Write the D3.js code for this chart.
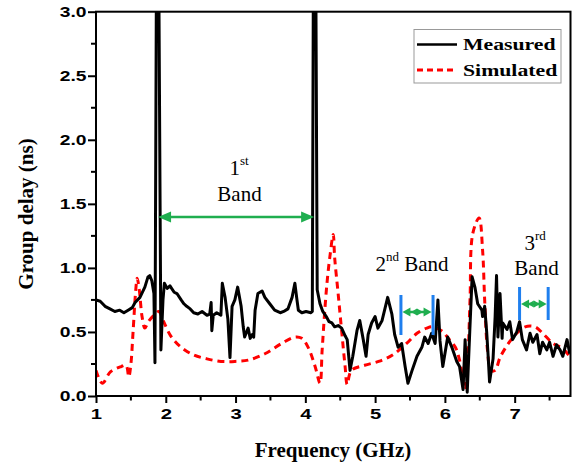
<!DOCTYPE html>
<html><head><meta charset="utf-8">
<script src="https://cdn.jsdelivr.net/npm/d3@7"></script>
<style>body{margin:0;background:#fff}svg{display:block}</style>
</head><body>
<svg id="chart" width="574" height="465"></svg>
<script>
// ---- data ----
const measuredFreq = [1.00,1.06,1.13,1.20,1.27,1.34,1.40,1.46,1.52,1.56,1.63,1.70,1.745,1.77,1.80,1.83,1.845,1.866,1.90,1.93,1.96,1.98,2.02,2.06,2.12,2.16,2.22,2.26,2.30,2.35,2.40,2.46,2.52,2.59,2.63,2.65,2.66,2.68,2.73,2.79,2.81,2.85,2.89,2.92,2.95,2.99,3.03,3.08,3.11,3.13,3.18,3.21,3.24,3.26,3.28,3.32,3.38,3.42,3.49,3.56,3.64,3.69,3.75,3.81,3.85,3.88,3.90,3.95,4.01,4.08,4.10,4.115,4.15,4.17,4.21,4.25,4.30,4.34,4.38,4.42,4.47,4.52,4.57,4.60,4.64,4.68,4.74,4.78,4.83,4.87,4.90,4.95,5.00,5.04,5.10,5.14,5.18,5.24,5.28,5.33,5.38,5.43,5.47,5.53,5.60,5.67,5.71,5.76,5.81,5.86,5.90,5.93,5.97,6.04,6.10,6.17,6.21,6.26,6.29,6.32,6.36,6.39,6.43,6.47,6.53,6.54,6.57,6.60,6.62,6.64,6.69,6.72,6.74,6.76,6.79,6.82,6.83,6.89,6.93,6.97,7.03,7.07,7.11,7.17,7.22,7.26,7.32,7.36,7.40,7.46,7.50,7.55,7.60,7.65,7.69,7.75,7.79];
const measuredDelay = [0.75,0.74,0.70,0.68,0.66,0.67,0.65,0.67,0.69,0.73,0.77,0.85,0.93,0.94,0.90,0.80,0.26,3.3,3.3,0.36,0.75,0.88,0.84,0.86,0.81,0.80,0.75,0.72,0.70,0.68,0.65,0.64,0.66,0.63,0.64,0.73,0.51,0.63,0.65,0.63,0.88,0.77,0.60,0.30,0.70,0.75,0.85,0.70,0.54,0.46,0.53,0.45,0.48,0.46,0.67,0.80,0.82,0.77,0.72,0.67,0.65,0.66,0.68,0.77,0.88,0.75,0.67,0.65,0.66,0.65,0.66,3.3,3.3,0.83,0.72,0.66,0.62,0.58,0.57,0.54,0.55,0.53,0.47,0.44,0.20,0.31,0.51,0.59,0.44,0.31,0.48,0.57,0.62,0.53,0.59,0.68,0.77,0.64,0.48,0.38,0.41,0.23,0.10,0.20,0.31,0.38,0.46,0.41,0.49,0.41,0.75,0.43,0.23,0.46,0.38,0.27,0.23,0.05,0.44,0.03,0.55,0.93,0.85,0.72,0.67,0.62,0.70,0.49,0.31,0.11,0.29,0.62,0.94,0.46,0.80,0.45,0.57,0.52,0.58,0.44,0.50,0.58,0.44,0.36,0.49,0.42,0.48,0.33,0.42,0.36,0.42,0.31,0.40,0.36,0.31,0.44,0.33];
const simulatedFreq = [1.00,1.09,1.21,1.36,1.43,1.47,1.50,1.53,1.57,1.59,1.62,1.66,1.70,1.75,1.83,1.90,1.97,2.07,2.22,2.40,2.59,2.79,2.99,3.18,3.42,3.66,3.85,3.95,4.04,4.14,4.21,4.24,4.27,4.31,4.35,4.40,4.42,4.47,4.52,4.57,4.60,4.66,4.85,5.05,5.25,5.45,5.60,5.74,5.82,5.95,6.05,6.15,6.21,6.29,6.33,6.36,6.40,6.49,6.54,6.57,6.61,6.66,6.72,6.79,6.91,7.03,7.15,7.29,7.40,7.55,7.69,7.80];
const simulatedDelay = [0.20,0.10,0.19,0.23,0.24,0.15,0.25,0.49,0.83,0.92,0.83,0.62,0.53,0.58,0.63,0.66,0.58,0.47,0.38,0.32,0.29,0.27,0.27,0.28,0.33,0.41,0.46,0.45,0.38,0.23,0.10,0.35,0.60,0.88,1.08,1.26,1.08,0.80,0.51,0.23,0.09,0.20,0.24,0.27,0.32,0.41,0.49,0.53,0.54,0.51,0.45,0.38,0.28,0.05,0.30,0.75,1.27,1.39,1.14,0.75,0.36,0.20,0.20,0.30,0.41,0.49,0.54,0.54,0.49,0.41,0.37,0.30];
const xTicks = [1,2,3,4,5,6,7];
const yTicks = [0.0,0.5,1.0,1.5,2.0,2.5,3.0];
const seriesNames = ["Measured","Simulated"];
const bandEdges = [[1.875,4.14],[5.37,5.83],[7.07,7.48]];

// ---- layout ----
const svg = d3.select("#chart");
const L = 96, R = 570.5, T = 11.7, B = 396;
const x = d3.scaleLinear().domain([1,7.8]).range([L,R]);
const y = d3.scaleLinear().domain([0,3]).range([B,T]);

svg.append("defs").append("clipPath").attr("id","clip")
  .append("rect").attr("x",L).attr("y",T).attr("width",R-L).attr("height",B-T);

const plot = svg.append("g").attr("clip-path","url(#clip)");

const simData = simulatedFreq.map((f,i)=>[f,simulatedDelay[i]]);
const meaData = measuredFreq.map((f,i)=>[f,measuredDelay[i]]);

plot.append("path").datum(simData)
  .attr("d", d3.line().x(d=>x(d[0])).y(d=>y(d[1])).curve(d3.curveCatmullRom.alpha(0.5)))
  .attr("fill","none").attr("stroke","#ff0000").attr("stroke-width",3).attr("stroke-dasharray","7,5");

plot.append("path").datum(meaData)
  .attr("d", d3.line().x(d=>x(d[0])).y(d=>y(d[1])))
  .attr("fill","none").attr("stroke","#000").attr("stroke-width",3).attr("stroke-linejoin","round");

// ---- frame and axes ----
const axisW = 2;
svg.append("rect").attr("x",L).attr("y",T).attr("width",R-L).attr("height",B-T)
  .attr("fill","none").attr("stroke","#000").attr("stroke-width",axisW);

const xMinor = d3.range(1.5,7.8,1);
const yMinor = d3.range(0.25,3,0.5);
const gx = svg.append("g").attr("transform",`translate(0,${B})`);
gx.call(d3.axisBottom(x).tickValues(xTicks).tickSize(7).tickFormat(d3.format("d")));
xMinor.forEach(v=>gx.append("line").attr("x1",x(v)).attr("x2",x(v)).attr("y1",0).attr("y2",4.5).attr("stroke","#000").attr("stroke-width",axisW));
gx.select(".domain").remove();
gx.selectAll(".tick line").attr("stroke-width",axisW);
gx.selectAll(".tick text").attr("y",12).attr("dy","0.71em")
  .attr("font-family","Liberation Sans, Arial, sans-serif").attr("font-weight","bold").attr("font-size",15)
  .attr("transform","scale(1.35,1)");

const gy = svg.append("g").attr("transform",`translate(${L},0)`);
gy.call(d3.axisLeft(y).tickValues(yTicks).tickSize(8).tickFormat(d3.format(".1f")));
gy.select(".domain").remove();
gy.selectAll(".tick line").attr("stroke-width",axisW);
yMinor.forEach(v=>gy.append("line").attr("x1",-5).attr("x2",0).attr("y1",y(v)).attr("y2",y(v)).attr("stroke","#000").attr("stroke-width",axisW));
gy.selectAll(".tick text").attr("x",-9.5/1.33)
  .attr("font-family","Liberation Sans, Arial, sans-serif").attr("font-weight","bold").attr("font-size",14.5)
  .attr("transform","scale(1.33,1)");

svg.append("text").attr("x",333).attr("y",457).attr("text-anchor","middle")
  .attr("font-family","Liberation Serif, Times New Roman, serif").attr("font-weight","bold").attr("font-size",21)
  .text("Frequency (GHz)");
svg.append("text").attr("transform","translate(33,214) rotate(-90)").attr("text-anchor","middle")
  .attr("font-family","Liberation Serif, Times New Roman, serif").attr("font-weight","bold").attr("font-size",21)
  .text("Group delay (ns)");

// ---- legend ----
const lg = svg.append("g");
lg.append("rect").attr("x",414).attr("y",29.5).attr("width",147).attr("height",53.5)
  .attr("fill","#fff").attr("stroke","#999").attr("stroke-width",1);
lg.append("line").attr("x1",417).attr("x2",457).attr("y1",44.5).attr("y2",44.5).attr("stroke","#000").attr("stroke-width",2.6);
lg.append("line").attr("x1",417).attr("x2",457).attr("y1",70).attr("y2",70).attr("stroke","#ff0000").attr("stroke-width",3).attr("stroke-dasharray","6,4");
[[seriesNames[0],49.5],[seriesNames[1],75.5]].forEach(([t,yy])=>{
  lg.append("text").attr("transform",`translate(463,${yy}) scale(1.28,1)`)
    .attr("font-family","Liberation Serif, Times New Roman, serif").attr("font-weight","bold").attr("font-size",17)
    .text(t);
});

// ---- annotations ----
const green = "#1fae4f", blue = "#1f7fee";
function head(g, xTip, yy, dir, len=11, hw=5){
  g.append("path").attr("d",`M${xTip},${yy} L${xTip-dir*len},${yy-hw} L${xTip-dir*len},${yy+hw} Z`).attr("fill",green);
}
const ann = svg.append("g");
// 1st band arrow
{
  const x1 = x(bandEdges[0][0])+1, x2 = x(bandEdges[0][1])-1, yy = 217;
  ann.append("line").attr("x1",x1+8).attr("x2",x2-8).attr("y1",yy).attr("y2",yy).attr("stroke",green).attr("stroke-width",2.5);
  head(ann,x1,yy,-1,13,5.5); head(ann,x2,yy,1,13,5.5);
}
// 2nd and 3rd band markers
[[bandEdges[1],295,335,312],[bandEdges[2],287,320,304]].forEach(([e,y1,y2,ya])=>{
  const a = x(e[0]), b = x(e[1]);
  [a,b].forEach(xx=>ann.append("line").attr("x1",xx).attr("x2",xx).attr("y1",y1).attr("y2",y2).attr("stroke",blue).attr("stroke-width",3));
  const m = (a+b)/2;
  ann.append("line").attr("x1",a+5).attr("x2",b-5).attr("y1",ya).attr("y2",ya).attr("stroke",green).attr("stroke-width",2.5);
  head(ann,a+1.5,ya,-1,8,4.5); head(ann,b-1.5,ya,1,8,4.5);
  head(ann,m-6,ya,-1,6,3.5); head(ann,m+6,ya,1,6,3.5);
});

const tfont = "Liberation Serif, Times New Roman, serif";
function sup(xx, yy, base, s, anchor){
  const t = ann.append("text").attr("x",xx).attr("y",yy).attr("font-family",tfont).attr("font-size",21).attr("text-anchor",anchor||"start");
  t.append("tspan").text(base);
  t.append("tspan").attr("font-size",13).attr("dy",-10).text(s);
  return t;
}
sup(229.5,175,"1","st");
ann.append("text").attr("x",239.5).attr("y",200.5).attr("text-anchor","middle").attr("font-family",tfont).attr("font-size",21).text("Band");
const t2 = sup(375.5,271,"2","nd");
t2.append("tspan").attr("dy",10).attr("font-size",21).text(" Band");
sup(524.5,250,"3","rd");
ann.append("text").attr("x",536.5).attr("y",275).attr("text-anchor","middle").attr("font-family",tfont).attr("font-size",21).text("Band");
</script>
</body></html>
